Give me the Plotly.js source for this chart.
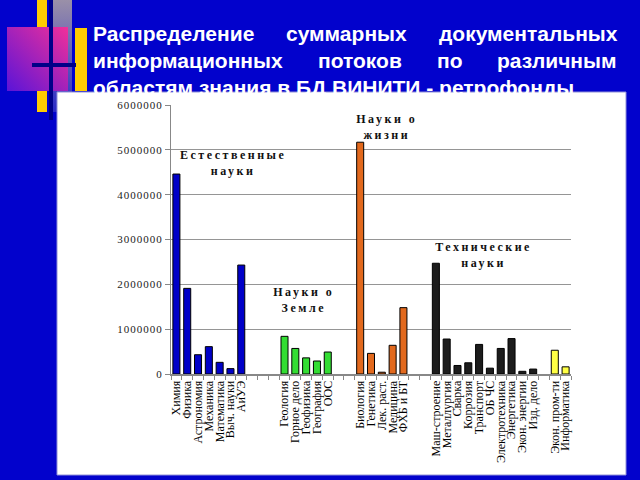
<!DOCTYPE html>
<html><head><meta charset="utf-8">
<script src="https://cdn.plot.ly/plotly-3.0.1.min.js"></script>
<style>
html,body{margin:0;padding:0;background:#0202cc;}
#chart{width:640px;height:480px;}
.ytick text{letter-spacing:1px;}
</style>
</head><body>
<div id="chart"></div>
<script>
// ---- data ----
const naturalLabels = ['Химия','Физика','Астрономия','Механика','Математика','Выч. науки','АиУЭ'];
const naturalValues = [4460000,1910000,430000,610000,260000,120000,2430000];
const earthLabels = ['Геология','Горное дело','Геофизика','География','ООС'];
const earthValues = [840000,570000,360000,290000,490000];
const lifeLabels = ['Биология','Генетика','Лек. раст.','Медицина','ФХБ и БТ'];
const lifeValues = [5170000,460000,40000,640000,1480000];
const techLabels = ['Маш-строение','Металлургия','Сварка','Коррозия','Транспорт','ОБ ЧС','Электротехника','Энергетика','Экон. энергии','Изд. дело'];
const techValues = [2470000,780000,190000,250000,660000,130000,570000,790000,60000,110000];
const otherLabels = ['Экон. пром-ти','Информатика'];
const otherValues = [530000,160000];
const groupNames = ['Естественные<br>науки','Науки о<br>Земле','Науки о<br>жизни','Технические<br>науки'];
const titleLines = [['Распределение','суммарных','документальных'],['информационных','потоков','по','различным'],['областям знания в БД ВИНИТИ - ретрофонды']];
const yTicks = [0,1000000,2000000,3000000,4000000,5000000,6000000];

// ---- layout helpers ----
const L=171, R=571, T=105, B=374;
const px = x => (x-L)/(R-L);
const py = y => (B-y)/(B-T);

// category order with empty slots between groups
const gaps = [3,2,2,1];
const groups = [naturalLabels, earthLabels, lifeLabels, techLabels, otherLabels];
let cats = []; let blank = 1;
groups.forEach((g,i)=>{ cats = cats.concat(g); if(i<gaps.length){ for(let k=0;k<gaps[i];k++){ cats.push(' '.repeat(blank++)); } } });

const colors = ['#0000c8','#33dd33','#e2691d','#1c1c1c','#ffff44'];
const vals = [naturalValues, earthValues, lifeValues, techValues, otherValues];
const traces = groups.map((g,i)=>({
  type:'bar', x:g, y:vals[i], marker:{color:colors[i], line:{color:'#000', width:1}},
  hoverinfo:'skip', showlegend:false
}));

// title word placement (justified)
const TF = 21;
const ctx = document.createElement('canvas').getContext('2d');
ctx.font = "bold "+TF+"px 'Liberation Sans'";
const annotations = [];
const lineY = [33,60,88];
const tLeft = 93, tRight = 617;
titleLines.forEach((words,li)=>{
  const widths = words.map(w=>ctx.measureText(w).width);
  let x = tLeft;
  if(words.length>1){
    const gap = (tRight - tLeft - widths.reduce((a,b)=>a+b,0))/(words.length-1);
    words.forEach((w,wi)=>{
      annotations.push({text:w, xref:'paper', yref:'paper', x:px(x-2), y:py(lineY[li]), xanchor:'left', yanchor:'middle', showarrow:false,
        font:{family:'Liberation Sans', size:TF, color:'#ffffff', weight:'bold'}});
      x += widths[wi] + gap;
    });
  } else {
    annotations.push({text:words[0], xref:'paper', yref:'paper', x:px(x-2), y:py(lineY[li]), xanchor:'left', yanchor:'middle', showarrow:false,
      font:{family:'Liberation Sans', size:TF, color:'#ffffff', weight:'bold'}});
  }
});
const groupPos = [[233,163],[304,300],[387,127],[484,255]];
groupNames.forEach((t,i)=>{
  annotations.push({text:t, xref:'paper', yref:'paper', x:px(groupPos[i][0]), y:py(groupPos[i][1]), xanchor:'center', yanchor:'middle',
    showarrow:false, font:{family:'Liberation Serif', size:12, color:'#111', weight:'bold'}});
});

// decoration svg
const decor = "<svg xmlns='http://www.w3.org/2000/svg' width='100' height='120' viewBox='0 0 100 120'>"+
 "<defs><linearGradient id='g' x1='0' y1='1' x2='1' y2='0'><stop offset='0' stop-color='#5a14d8'/><stop offset='1' stop-color='#f0309a'/></linearGradient>"+
 "<linearGradient id='h' x1='0' y1='0' x2='0' y2='1'><stop offset='0' stop-color='#9a90a8'/><stop offset='1' stop-color='#2a2ac8'/></linearGradient></defs>"+
 "<rect x='37' y='0' width='10' height='112' fill='#ffcc00'/>"+
 "<rect x='52' y='0' width='20' height='112' fill='url(#h)'/>"+
 "<rect x='7' y='27' width='61' height='64' fill='url(#g)'/>"+
 "<rect x='75' y='28' width='12' height='63' fill='#ffcc00'/>"+
 "<rect x='49' y='0' width='4' height='120' fill='#000088'/>"+
 "<rect x='32' y='63' width='44' height='4' fill='#000088'/>"+
 "</svg>";

const layout = {
  width:640, height:480,
  margin:{l:L, r:640-R, t:T, b:480-B, pad:0},
  paper_bgcolor:'#0202cc', plot_bgcolor:'#ffffff',
  barmode:'overlay', bargap:0.35,
  showlegend:false,
  xaxis:{type:'category', categoryorder:'array', categoryarray:cats, range:[-0.5, cats.length-0.5],
    tickmode:'array', tickvals:cats, ticktext:cats,
    tickson:'boundaries', ticks:'outside', ticklen:4, tickcolor:'#888', showgrid:false,
    showline:true, linecolor:'#888', linewidth:2, tickangle:-90, automargin:false,
    tickfont:{family:'Liberation Serif', size:12, color:'#000'}, fixedrange:true},
  yaxis:{range:[0,6000000], tickvals:yTicks, ticktext:yTicks.map(v=>String(v)), ticks:'outside', ticklen:5, tickcolor:'#888',
    showline:true, linecolor:'#888', linewidth:1, gridcolor:'#959595', gridwidth:1, zeroline:false, automargin:false,
    tickfont:{family:'Liberation Serif', size:11, color:'#222'}, fixedrange:true},
  shapes:[{type:'rect', xref:'paper', yref:'paper', x0:px(57), x1:px(626), y0:py(475), y1:py(92),
    fillcolor:'#ffffff', line:{color:'#9090d8', width:1}, layer:'below'}],
  images:[{source:'data:image/svg+xml;charset=utf-8,'+encodeURIComponent(decor), xref:'paper', yref:'paper',
    x:px(0), y:py(0), sizex:100/(R-L), sizey:120/(B-T), xanchor:'left', yanchor:'top', sizing:'stretch', layer:'below'}],
  annotations:annotations
};

Plotly.newPlot('chart', traces, layout, {staticPlot:true, displayModeBar:false}).then(()=>{
  document.querySelectorAll('.annotation-text').forEach(el=>{
    const u = el.getAttribute('data-unformatted') || '';
    if(u.indexOf('<br>')>=0) el.style.letterSpacing='2.5px';
  });
});
</script>
</body></html>
